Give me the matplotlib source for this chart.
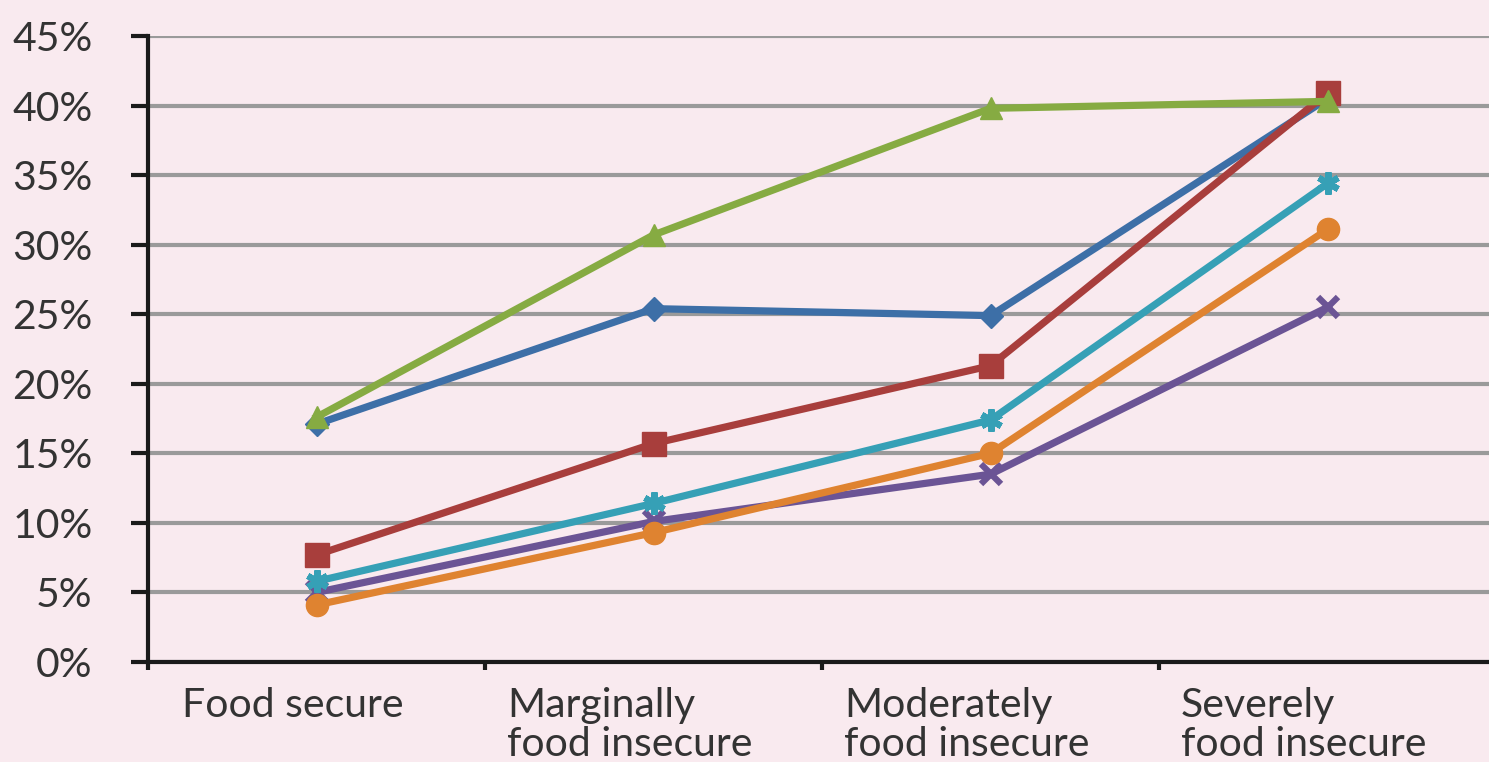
import numpy as np
import matplotlib.pyplot as plt
import matplotlib.transforms as mtransforms
from matplotlib.ticker import PercentFormatter

categories = ["Food secure", "Marginally\nfood insecure",
              "Moderately\nfood insecure", "Severely\nfood insecure"]

blue = [17.1, 25.4, 24.9, 40.5]
green = [17.6, 30.7, 39.8, 40.3]
red = [7.7, 15.7, 21.3, 40.9]
teal = [5.8, 11.4, 17.4, 34.4]
purple = [5.0, 10.1, 13.5, 25.5]
orange = [4.1, 9.3, 15.0, 31.1]

plt.rcParams['font.family'] = ['Lato', 'DejaVu Sans']

bg = "#f9eaef"
fig = plt.figure(figsize=(14.89, 7.62), dpi=100, facecolor=bg)
ax = fig.add_axes([148 / 1489, 100 / 762, 1 - 148 / 1489, 626 / 762])
ax.set_facecolor(bg)

x = np.arange(len(categories))
lw = 5.2
ax.plot(x, blue, color="#3d6fa7", lw=lw, marker="D", ms=12, zorder=4)
ax.plot(x, red, color="#a83e3c", lw=lw, marker="s", ms=17, zorder=5)
ax.plot(x, green, color="#86ab42", lw=lw, marker="^", ms=16, zorder=6)
ax.plot(x, purple, color="#6b5495", lw=lw, marker="x", ms=14, mew=4.5, zorder=3)
ax.plot(x, teal, color="#36a0b6", lw=lw, marker=(6, 2, 0), ms=16, mew=4.5, zorder=4)
ax.plot(x, orange, color="#df8330", lw=lw, marker="o", ms=16, zorder=4)

ax.set_ylim(0, 45)
ax.set_xlim(-0.5, 3.479)
ax.set_yticks(np.arange(0, 46, 5))
ax.yaxis.set_major_formatter(PercentFormatter(decimals=0))
ax.yaxis.grid(True, color="#9a9a9a", lw=3.0)
ax.set_axisbelow(True)

for s in ["top", "right"]:
    ax.spines[s].set_visible(False)
for s in ["left", "bottom"]:
    ax.spines[s].set_linewidth(3.0)
    ax.spines[s].set_color("#1a1a1a")

ax.tick_params(axis="y", length=12, width=3.0, pad=28, labelsize=29.5,
               labelcolor="#333333", color="#1a1a1a")

# boundaries get the ticks, category centres get the labels
ax.set_xticks(np.arange(-0.5, 3.5, 1.0))
ax.set_xticklabels([])
ax.tick_params(axis="x", which="major", length=6, width=3.0, color="#1a1a1a")
ax.set_xticks(x, minor=True)
ax.set_xticklabels(categories, minor=True, multialignment="left",
                   linespacing=1.05)
ax.tick_params(axis="x", which="minor", length=0, pad=18, labelsize=29.5,
               labelcolor="#333333")
shift = mtransforms.ScaledTranslation(-24 / 100, 0, fig.dpi_scale_trans)
for lab in ax.get_xticklabels(minor=True):
    lab.set_transform(lab.get_transform() + shift)

fig.savefig("out.png", dpi=100, facecolor=bg)
